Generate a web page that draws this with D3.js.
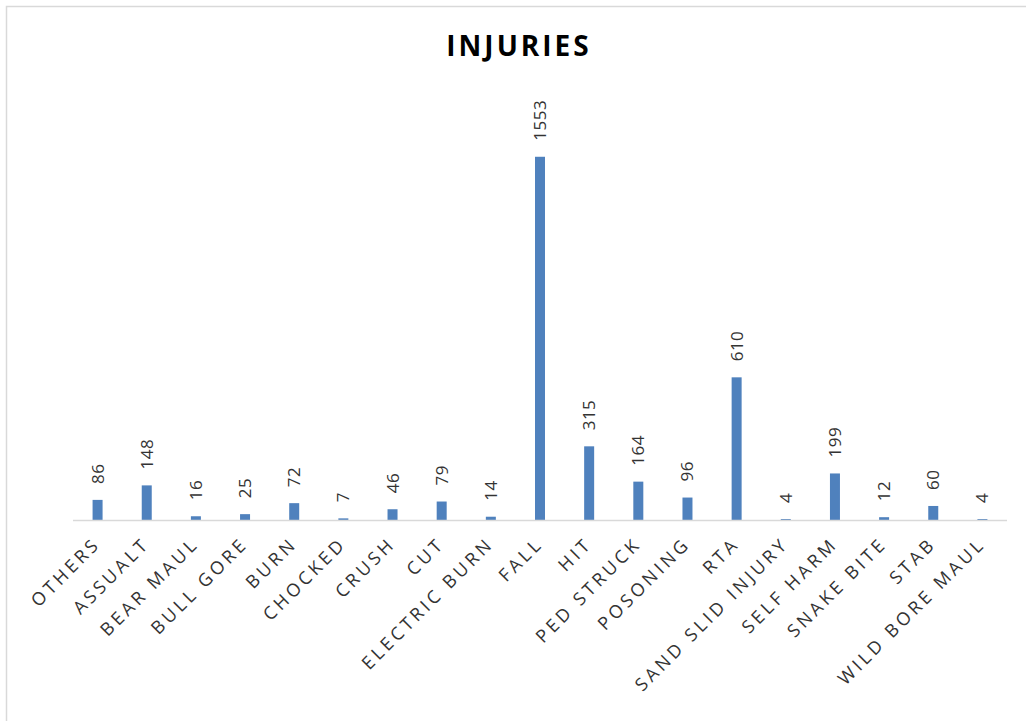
<!DOCTYPE html>
<html>
<head>
<meta charset="utf-8">
<title>Injuries</title>
<script src="https://cdn.jsdelivr.net/npm/d3@7"></script>
<style>
  body { margin: 0; background: #fff; }
  svg { display: block; font-family: "Open Sans", sans-serif; }
</style>
</head>
<body>
<script>
// chart data
const categories = ["OTHERS", "ASSUALT", "BEAR MAUL", "BULL GORE", "BURN", "CHOCKED", "CRUSH", "CUT",
  "ELECTRIC BURN", "FALL", "HIT", "PED STRUCK", "POSONING", "RTA", "SAND SLID INJURY", "SELF HARM",
  "SNAKE BITE", "STAB", "WILD BORE MAUL"];
const counts = [86, 148, 16, 25, 72, 7, 46, 79, 14, 1553, 315, 164, 96, 610, 4, 199, 12, 60, 4];

const width = 1026, height = 721;
const left = 73, right = 1007, base = 520;

const svg = d3.select("body").append("svg")
  .attr("width", width)
  .attr("height", height);

// chart frame (only top/left visible in reference)
svg.append("rect")
  .attr("x", 6.5).attr("y", 6.5)
  .attr("width", width + 20).attr("height", height + 20)
  .attr("fill", "#fff")
  .attr("stroke", "#d9d9d9")
  .attr("stroke-width", 1.5);

svg.append("text")
  .attr("x", 519).attr("y", 56)
  .attr("text-anchor", "middle")
  .attr("font-size", 28)
  .attr("font-weight", "bold")
  .attr("letter-spacing", 3)
  .attr("fill", "#000")
  .text("INJURIES");

let xScale = d3.scaleBand()
  .domain(categories)
  .range([left, right]);

let yScale = d3.scaleLinear()
  .domain([0, 1800])
  .range([base, 99]);

const barW = 10;

svg.selectAll("rect.bar")
  .data(counts)
  .enter()
  .append("rect")
  .attr("class", "bar")
  .attr("x", function(d, i){ return xScale(categories[i]) + xScale.bandwidth() / 2 - barW / 2; })
  .attr("y", function(d){ return yScale(d); })
  .attr("width", barW)
  .attr("height", function(d){ return base - yScale(d); })
  .attr("fill", "#4f81bd");

// baseline
svg.append("line")
  .attr("x1", left).attr("x2", right)
  .attr("y1", base + 0.5).attr("y2", base + 0.5)
  .attr("stroke", "#d9d9d9")
  .attr("stroke-width", 1.5);

// value labels, rotated
svg.selectAll("text.val")
  .data(counts)
  .enter()
  .append("text")
  .attr("class", "val")
  .attr("transform", function(d, i){
    const cx = xScale(categories[i]) + xScale.bandwidth() / 2;
    return "translate(" + (cx + 6) + "," + (yScale(d) - 16) + ") rotate(-90)";
  })
  .attr("font-size", 17)
  .attr("letter-spacing", 0.5)
  .attr("fill", "#333")
  .text(function(d){ return d; });

// category labels, rotated -45
svg.selectAll("text.cat")
  .data(categories)
  .enter()
  .append("text")
  .attr("class", "cat")
  .attr("transform", function(d){
    const cx = xScale(d) + xScale.bandwidth() / 2;
    return "translate(" + (cx + 4) + "," + (base + 25) + ") rotate(-45)";
  })
  .attr("text-anchor", "end")
  .attr("font-size", 18)
  .attr("letter-spacing", 3.5)
  .attr("fill", "#333")
  .text(function(d){ return d; });
</script>
</body>
</html>
